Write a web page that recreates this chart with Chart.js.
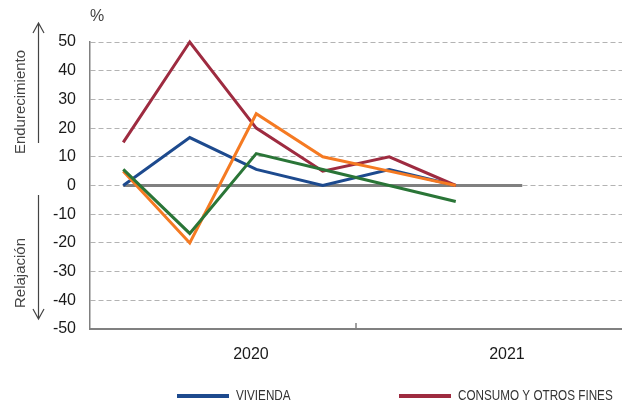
<!DOCTYPE html>
<html>
<head>
<meta charset="utf-8">
<script src="https://cdn.jsdelivr.net/npm/chart.js@4.4.1/dist/chart.umd.min.js"></script>
<style>
  body { margin: 0; background: #fff; }
  #wrap { width: 622px; height: 402px; position: relative; }
</style>
</head>
<body>
<div id="wrap"><canvas id="lineChart"></canvas></div>
<script>
const quarters = ['I TR 2020', 'II TR 2020', 'III TR 2020', 'IV TR 2020', 'I TR 2021', 'II TR 2021', 'III TR 2021', 'IV TR 2021'];
const vivienda = [0, 16.7, 5.6, 0, 5.6, 0];
const consumo = [15, 50, 20, 5, 10, 0];
const serieNaranja = [5, -20, 25, 10, 5, 0];
const serieVerde = [5.6, -16.7, 11.1, 5.6, 0, -5.6];
const lineaCero = [0, 0, 0, 0, 0, 0, 0];
const yearLabels = ['2020', '2021'];
const yearPos = [2.42, 6.27];

const sansFont = "'Liberation Sans', Arial, sans-serif";

// textos y flechas del eje vertical, marca de separacion de años y leyenda
const extras = {
    id: 'extras',
    afterDraw(chart) {
        const ctx = chart.ctx;
        const area = chart.chartArea;
        const xs = chart.scales.x;
        ctx.save();

        // marca entre 2020 y 2021
        const sep = (xs.getPixelForValue(3) + xs.getPixelForValue(4)) / 2;
        ctx.strokeStyle = '#808080';
        ctx.lineWidth = 1.5;
        ctx.beginPath();
        ctx.moveTo(sep, area.bottom);
        ctx.lineTo(sep, area.bottom - 6);
        ctx.stroke();

        ctx.fillStyle = '#444';
        ctx.font = '16px ' + sansFont;
        ctx.textAlign = 'center';
        ctx.textBaseline = 'middle';
        ctx.fillText('%', 97, 17);

        ctx.font = '15px ' + sansFont;
        ctx.save();
        ctx.translate(21, 102);
        ctx.rotate(-Math.PI / 2);
        ctx.fillText('Endurecimiento', 0, 0);
        ctx.restore();
        ctx.save();
        ctx.translate(21, 273);
        ctx.rotate(-Math.PI / 2);
        ctx.fillText('Relajación', 0, 0);
        ctx.restore();

        ctx.strokeStyle = '#444';
        ctx.lineWidth = 1.2;
        ctx.beginPath();
        ctx.moveTo(38.5, 143); ctx.lineTo(38.5, 23);
        ctx.moveTo(33, 33); ctx.lineTo(38.5, 23); ctx.lineTo(44, 33);
        ctx.moveTo(38.5, 195); ctx.lineTo(38.5, 319);
        ctx.moveTo(33, 309); ctx.lineTo(38.5, 319); ctx.lineTo(44, 309);
        ctx.stroke();

        // leyenda (solo la primera fila es visible), texto estrechado
        const items = [{ ds: 0, x: 177 }, { ds: 1, x: 399 }];
        ctx.font = '15px ' + sansFont;
        ctx.textAlign = 'left';
        ctx.textBaseline = 'alphabetic';
        items.forEach(it => {
            const ds = chart.data.datasets[it.ds];
            ctx.fillStyle = ds.borderColor;
            ctx.fillRect(it.x, 394, 52, 4);
            ctx.fillStyle = '#333';
            ctx.save();
            ctx.translate(it.x + 59, 400);
            ctx.scale(0.78, 1);
            ctx.fillText(ds.label, 0, 0);
            ctx.restore();
        });
        ctx.restore();
    }
};

const ctx1 = document.getElementById('lineChart').getContext('2d');
const lineChart = new Chart(ctx1, {
    type: 'line',
    data: {
        labels: quarters,
        datasets: [
            { label: 'VIVIENDA', data: vivienda, borderColor: '#1d4a8e', order: 4 },
            { label: 'CONSUMO Y OTROS FINES', data: consumo, borderColor: '#9e2b40', order: 3 },
            { label: 'Serie 3', data: serieNaranja, borderColor: '#f57a22', order: 2 },
            { label: 'Serie 4', data: serieVerde, borderColor: '#2a7537', order: 1 },
            { label: 'cero', data: lineaCero, borderColor: '#808080', order: 10 }
        ].map(d => Object.assign({
            borderWidth: 3,
            pointRadius: 0,
            tension: 0,
            fill: false,
            clip: false
        }, d))
    },
    options: {
        responsive: true,
        maintainAspectRatio: false,
        animation: false,
        layout: { padding: { top: 42, left: 0, right: 0, bottom: 0 } },
        plugins: {
            legend: { display: false },
            tooltip: { enabled: false }
        },
        scales: {
            x: {
                type: 'category',
                offset: true,
                ticks: { display: false },
                grid: { display: false },
                border: { color: '#808080', width: 2 },
                afterFit: s => { s.height = 0; }
            },
            x2: {
                type: 'linear',
                position: 'bottom',
                min: 0,
                max: quarters.length,
                afterBuildTicks: s => { s.ticks = yearPos.map(v => ({ value: v })); },
                ticks: {
                    callback: (v, i) => yearLabels[i],
                    font: { family: sansFont, size: 16 },
                    color: '#1a1a1a',
                    padding: 8,
                    maxRotation: 0
                },
                grid: { display: false },
                border: { display: false },
                afterFit: s => { s.height = 73; }
            },
            y: {
                min: -50,
                max: 50,
                ticks: {
                    stepSize: 10,
                    font: { family: sansFont, size: 16 },
                    color: '#1a1a1a',
                    padding: 14
                },
                grid: { color: '#b3b3b3', lineWidth: 1, drawTicks: false },
                border: { color: '#808080', width: 1.5, dash: [5, 3] },
                afterFit: s => { s.width = 90; }
            }
        }
    },
    plugins: [extras]
});
</script>
</body>
</html>
